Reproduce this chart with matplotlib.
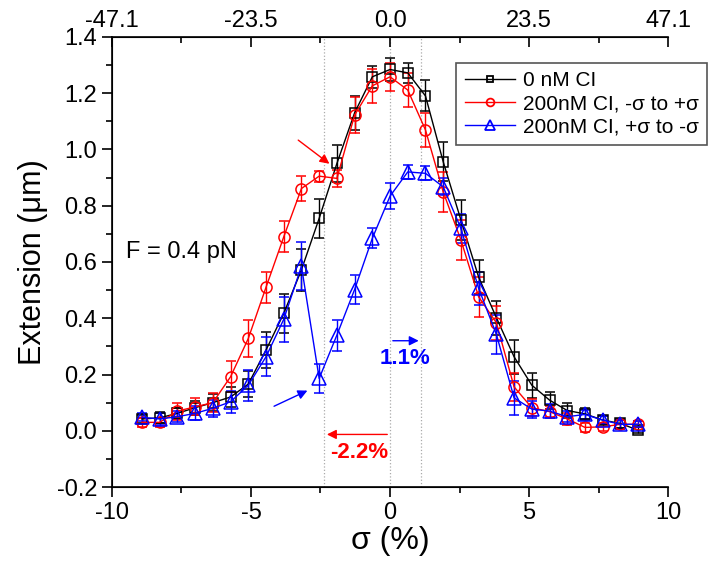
import numpy as np
import matplotlib
matplotlib.use('Agg')
import matplotlib.pyplot as plt
from matplotlib.lines import Line2D

plt.rcParams['font.family'] = ['Liberation Sans', 'DejaVu Sans']
plt.rcParams['axes.unicode_minus'] = False

# supercoiling density (%), 3 turns apart
turns = np.arange(-42, 43, 3)
sigma = turns / 4.71

ext_0nM = [0.042, 0.046, 0.062, 0.082, 0.100, 0.120, 0.166, 0.287, 0.417, 0.572,
           0.755, 0.950, 1.130, 1.258, 1.284, 1.272, 1.190, 0.956, 0.749, 0.546,
           0.402, 0.263, 0.162, 0.109, 0.072, 0.060, 0.038, 0.026, 0.002]
err_0nM = [0.015, 0.02, 0.02, 0.025, 0.03, 0.035, 0.045, 0.065, 0.07, 0.075,
           0.07, 0.065, 0.06, 0.04, 0.04, 0.035, 0.055, 0.07, 0.07, 0.06,
           0.06, 0.06, 0.045, 0.03, 0.025, 0.02, 0.015, 0.015, 0.01]

ext_up = [0.030, 0.030, 0.070, 0.085, 0.100, 0.192, 0.328, 0.510, 0.689, 0.861,
          0.905, 0.897, 1.122, 1.226, 1.258, 1.211, 1.069, 0.849, 0.678, 0.476,
          0.384, 0.156, 0.082, 0.068, 0.042, 0.012, 0.014, 0.023, 0.023]
err_up = [0.015, 0.015, 0.03, 0.03, 0.035, 0.055, 0.065, 0.055, 0.055, 0.045,
          0.02, 0.03, 0.065, 0.06, 0.05, 0.06, 0.06, 0.07, 0.07, 0.07,
          0.06, 0.05, 0.03, 0.02, 0.02, 0.015, 0.015, 0.015, 0.01]

ext_down = [0.048, 0.042, 0.050, 0.062, 0.080, 0.103, 0.162, 0.263, 0.396, 0.585,
            0.186, 0.340, 0.502, 0.684, 0.834, 0.920, 0.915, 0.867, 0.719, 0.506,
            0.343, 0.117, 0.077, 0.070, 0.050, 0.058, 0.038, 0.023, 0.023]
err_down = [0.015, 0.02, 0.02, 0.025, 0.03, 0.04, 0.055, 0.07, 0.08, 0.085,
            0.05, 0.055, 0.05, 0.035, 0.045, 0.025, 0.025, 0.03, 0.05, 0.06,
            0.07, 0.06, 0.03, 0.025, 0.02, 0.015, 0.015, 0.015, 0.01]

labels = ['0 nM CI', '200nM CI, -σ to +σ', '200nM CI, +σ to -σ']
top_labels = ['-47.1', '-23.5', '0.0', '23.5', '47.1']
shift_lines = [-2.37, 0.0, 1.13]

fig = plt.figure(figsize=(7.17, 5.67), dpi=100)
ax = fig.add_axes([0.156, 0.141, 0.776, 0.794])

for line_x in shift_lines:
    ax.axvline(line_x, color='#aaaaaa', ls=':', lw=0.9, zorder=0)

styles = [('black', 's', 6.5), ('red', 'o', 8), ('blue', '^', 9.5)]
series = [(ext_0nM, err_0nM), (ext_up, err_up), (ext_down, err_down)]
handles = []
for (c, m, s), (y, e), lab in zip(styles, series, labels):
    ax.errorbar(sigma, y, yerr=e, color=c, marker=m, ms=s, mfc='none',
                mew=1.1, lw=1, capsize=3.5, elinewidth=1)
    handles.append(Line2D([], [], color=c, marker=m, ms=s * 0.7, mfc='none',
                          mew=1.3, lw=1, label=lab))

ax.set_xlim(-10, 10)
ax.set_ylim(-0.2, 1.4)
ax.set_xticks([-10, -5, 0, 5, 10])
ax.set_xticks([-7.5, -2.5, 2.5, 7.5], minor=True)
ax.set_yticks(np.arange(-0.2, 1.41, 0.2))
ax.set_yticks(np.arange(-0.1, 1.4, 0.2), minor=True)
ax.set_yticklabels(['%.1f' % v for v in np.arange(-0.2, 1.41, 0.2)])
ax.tick_params(labelsize=17, width=1.2, length=7)
ax.tick_params(which='minor', width=1.2, length=4)
ax.spines['right'].set_visible(False)
for s in ['left', 'bottom', 'top']:
    ax.spines[s].set_linewidth(1.2)

top = ax.twiny()
top.set_xlim(-10, 10)
top.set_xticks([-10, -5, 0, 5, 10])
top.set_xticklabels(top_labels)
top.set_xticks([-7.5, -2.5, 2.5, 7.5], minor=True)
top.tick_params(direction='in', labelsize=17, width=1.2, length=7)
top.tick_params(which='minor', direction='in', width=1.2, length=4)
top.spines['right'].set_visible(False)

ax.set_xlabel('σ (%)', fontsize=23, labelpad=2)
ax.set_ylabel('Extension (μm)', fontsize=22, labelpad=6)

ax.text(-9.5, 0.636, 'F = 0.4 pN', fontsize=17, va='center')

ax.annotate('', xy=(-2.10, 0.943), xytext=(-3.38, 1.039),
            arrowprops=dict(arrowstyle='-|>', color='red', lw=1, mutation_scale=14))
ax.annotate('', xy=(-2.88, 0.147), xytext=(-4.26, 0.083),
            arrowprops=dict(arrowstyle='-|>', color='blue', lw=1, mutation_scale=14))
ax.annotate('', xy=(1.13, 0.32), xytext=(0.0, 0.32),
            arrowprops=dict(arrowstyle='-|>', color='blue', lw=1, mutation_scale=14))
ax.annotate('', xy=(-2.37, -0.013), xytext=(0.0, -0.013),
            arrowprops=dict(arrowstyle='-|>', color='red', lw=1, mutation_scale=14))
ax.text(0.54, 0.257, '1.1%', color='blue', fontsize=16, fontweight='bold',
        ha='center', va='center')
ax.text(-1.12, -0.078, '-2.2%', color='red', fontsize=16, fontweight='bold',
        ha='center', va='center')

leg = ax.legend(handles=handles, loc='upper left', bbox_to_anchor=(0.619, 0.942),
                borderaxespad=0, fontsize=15, fancybox=False, edgecolor='#555555',
                handlelength=2.4, labelspacing=0.2, borderpad=0.4, handletextpad=0.4,
                framealpha=1)
leg.get_frame().set_linewidth(1.2)

fig.savefig('out.png', dpi=100)
